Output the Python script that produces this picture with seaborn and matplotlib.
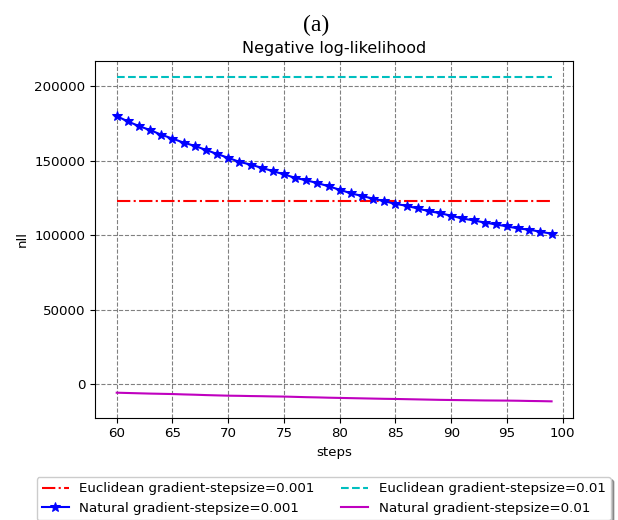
import matplotlib
matplotlib.use("Agg")
import matplotlib.pyplot as plt
import pandas as pd
import seaborn as sns

steps = list(range(60, 100))

euclid_001 = [123000] * 40
euclid_01 = [206000] * 40

natural_001 = [
    179800, 176200, 173100, 170400, 167300, 164700, 162000, 159800, 157100, 154400,
    151800, 149100, 147300, 145100, 142900, 140700, 138400, 136700, 134900, 132700,
    130400, 128000, 126200, 124400, 122700, 120900, 119600, 117800, 116000, 114700,
    112900, 111100, 109800, 108400, 107100, 105800, 104400, 103600, 102200, 100900,
]

natural_01 = [
    -5800, -6000, -6200, -6400, -6550, -6700, -6950, -7150, -7400, -7600,
    -7800, -7900, -8050, -8150, -8300, -8400, -8600, -8800, -8950, -9150,
    -9300, -9450, -9600, -9750, -9900, -10000, -10150, -10300, -10450, -10600,
    -10700, -10800, -10900, -11000, -11050, -11100, -11200, -11350, -11450, -11600,
]

df = pd.DataFrame({
    "steps": steps,
    "e001": euclid_001,
    "e01": euclid_01,
    "n001": natural_001,
    "n01": natural_01,
})

plt.rcParams["font.size"] = 9.6

fig = plt.figure(figsize=(6.18, 5.2), dpi=100)
ax = fig.add_axes([0.1537, 0.197, 0.774, 0.686])

sns.lineplot(data=df, x="steps", y="e001", ax=ax, color="r", linestyle="-.",
             label="Euclidean gradient-stepsize=0.001")
sns.lineplot(data=df, x="steps", y="n001", ax=ax, color="b", marker="*",
             markersize=7, markeredgecolor="b",
             label="Natural gradient-stepsize=0.001")
sns.lineplot(data=df, x="steps", y="e01", ax=ax, color="c", linestyle="--",
             label="Euclidean gradient-stepsize=0.01")
sns.lineplot(data=df, x="steps", y="n01", ax=ax, color="m",
             label="Natural gradient-stepsize=0.01")

ax.grid(True, color="gray", linestyle="--", linewidth=0.8)
ax.set_xticks(range(60, 101, 5))
ax.tick_params(labelsize=9.6)
ax.set_title("Negative log-likelihood", fontsize=11.5)
ax.set_xlabel("steps", fontsize=9.6)
ax.set_ylabel("nll", fontsize=9.6)

handles, labels = ax.get_legend_handles_labels()
ax.legend(handles, labels, loc="upper center",
          bbox_to_anchor=(0.524, 1 - 477 / 520), bbox_transform=fig.transFigure,
          borderaxespad=0, ncol=2, shadow=True, fontsize=9.6)

fig.text(316 / 618, 1 - 25 / 520, "(a)", ha="center", va="center",
         family="Liberation Serif", fontsize=17)

fig.savefig("out.png", dpi=100)
